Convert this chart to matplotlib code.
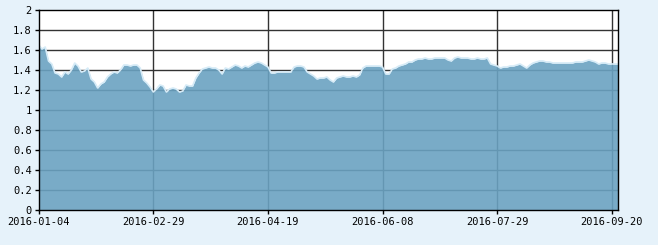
import numpy as np
import matplotlib
matplotlib.use("Agg")
from matplotlib import pyplot as plt

###################
## Data (daily values, one per trading day)
###################
values = [
  1.65, 1.61, 1.63, 1.49, 1.46, 1.37, 1.36, 1.33, 1.38, 1.36,
  1.40, 1.47, 1.44, 1.38, 1.39, 1.42, 1.31, 1.28, 1.22, 1.26,
  1.28, 1.33, 1.36, 1.38, 1.37, 1.40, 1.45, 1.45, 1.44, 1.45,
  1.45, 1.42, 1.30, 1.27, 1.23, 1.18, 1.21, 1.25, 1.24, 1.18,
  1.21, 1.22, 1.21, 1.18, 1.19, 1.25, 1.24, 1.24, 1.32, 1.37,
  1.41, 1.42, 1.43, 1.42, 1.42, 1.40, 1.36, 1.42, 1.41, 1.43,
  1.45, 1.44, 1.42, 1.44, 1.43, 1.45, 1.47, 1.48, 1.47, 1.45,
  1.43, 1.37, 1.37, 1.38, 1.38, 1.38, 1.38, 1.38, 1.43, 1.44,
  1.44, 1.43, 1.38, 1.36, 1.34, 1.31, 1.32, 1.32, 1.33, 1.30,
  1.28, 1.32, 1.33, 1.34, 1.33, 1.33, 1.34, 1.33, 1.35, 1.42,
  1.44, 1.44, 1.44, 1.44, 1.44, 1.43, 1.36, 1.36, 1.41, 1.42,
  1.44, 1.45, 1.46, 1.48, 1.48, 1.50, 1.51, 1.51, 1.52, 1.51,
  1.51, 1.52, 1.52, 1.52, 1.52, 1.50, 1.49, 1.52, 1.53, 1.52,
  1.52, 1.52, 1.51, 1.51, 1.52, 1.51, 1.51, 1.52, 1.46, 1.45,
  1.44, 1.42, 1.43, 1.43, 1.44, 1.44, 1.45, 1.46, 1.44, 1.42,
  1.45, 1.47, 1.48, 1.49, 1.49, 1.48, 1.48, 1.47, 1.47, 1.47,
  1.47, 1.47, 1.47, 1.47, 1.48, 1.48, 1.48, 1.49, 1.50, 1.49,
  1.48, 1.46, 1.47, 1.47, 1.46, 1.46, 1.46, 1.46,
]
tick_labels = ["2016-01-04", "2016-02-29", "2016-04-19", "2016-06-08", "2016-07-29", "2016-09-20"]
tick_index = [0, 35, 70, 105, 140, 175]
y_ticks = [0, 0.2, 0.4, 0.6, 0.8, 1, 1.2, 1.4, 1.6, 1.8, 2]
y_labels = ["0", "0.2", "0.4", "0.6", "0.8", "1", "1.2", "1.4", "1.6", "1.8", "2"]

def main():
  x = np.arange(len(values))

  fig = plt.figure(figsize=(6.58, 2.45), dpi=100)
  fig.patch.set_facecolor("#e6f2fa")
  ax = fig.add_axes([0.0588, 0.1429, 0.8809, 0.8163])
  ax.set_facecolor("white")

  ###################
  ## Grid behind the area
  ###################
  for yv in y_ticks[1:-1]:
    ax.axhline(yv, color="#333333", lw=1, zorder=1)
  for xv in tick_index[1:]:
    ax.axvline(xv, color="#333333", lw=1, zorder=1)

  ###################
  ## Area
  ###################
  ax.fill_between(x, values, 0, color="#6aa2c1", alpha=0.9, lw=0, zorder=2)
  ax.plot(x, values, color="#d6ebf7", lw=1.2, zorder=3)

  ax.set_xlim(0, len(values) - 1)
  ax.set_ylim(0, 2)
  ax.set_xticks(tick_index)
  ax.set_xticklabels(tick_labels)
  ax.set_yticks(y_ticks)
  ax.set_yticklabels(y_labels)
  ax.tick_params(axis="both", direction="out", length=3, width=1, colors="black",
                 labelsize=7.5, pad=2)
  for lab in ax.get_xticklabels() + ax.get_yticklabels():
    lab.set_family("DejaVu Sans Mono")
  for sp in ax.spines.values():
    sp.set_color("black")
    sp.set_linewidth(1)
    sp.set_zorder(4)

  fig.savefig("out.png", dpi=100, facecolor=fig.get_facecolor())
  plt.close(fig)

if __name__ == "__main__":
  main()
